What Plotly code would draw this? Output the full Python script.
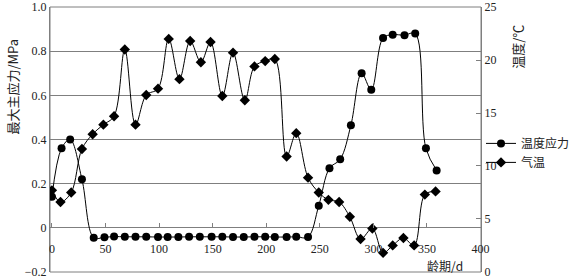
import plotly.graph_objects as go

days_stress = [0, 9, 17, 28, 39, 49, 58, 68, 78, 88, 99, 108, 118, 128, 138, 149, 159, 169, 179, 189,
               199, 208, 219, 228, 239, 249, 259, 269, 279, 289, 298, 309, 318, 329, 339, 349, 359]
stress = [0.14, 0.36, 0.40, 0.22, -0.045, -0.043, -0.040, -0.041, -0.041, -0.041, -0.042, -0.042,
          -0.042, -0.041, -0.041, -0.041, -0.041, -0.042, -0.042, -0.041, -0.041, -0.042, -0.042,
          -0.041, -0.042, 0.10, 0.27, 0.31, 0.465, 0.70, 0.625, 0.86, 0.875, 0.873, 0.88, 0.36, 0.26]

days_air = [0, 8, 18, 28, 38, 48, 58, 68, 78, 88, 99, 109, 119, 129, 139, 148, 159, 169, 180, 189,
            199, 208, 219, 228, 239, 249, 258, 268, 278, 288, 299, 309, 318, 328, 338, 348, 358]
air_temp = [7.7, 6.6, 7.5, 11.6, 13.0, 13.9, 14.7, 21.0, 13.9, 16.7, 17.3, 22.0, 18.2, 21.8, 19.8,
            21.7, 16.6, 20.7, 16.2, 19.4, 19.9, 20.1, 10.9, 13.1, 8.9, 7.5, 6.8, 6.6, 5.2, 3.1, 4.1,
            1.8, 2.5, 3.2, 2.5, 7.3, 7.6]

x_ticks = [0, 50, 100, 150, 200, 250, 300, 350, 400]
y_ticks = [-0.2, 0, 0.2, 0.4, 0.6, 0.8, 1.0]
y_ticktext = ["\u22120.2", "0", "0.2", "0.4", "0.6", "0.8", "1.0"]
y2_ticks = [0, 5, 10, 15, 20, 25]

FONT = "'Liberation Serif', 'Noto Sans CJK SC'"
CJK = "'Noto Sans CJK SC'"
GRID = "#7f7f7f"

fig = go.Figure()
fig.add_trace(go.Scatter(
    x=days_stress, y=stress, name="温度应力", mode="lines+markers",
    line=dict(color="black", width=1, shape="spline", smoothing=1),
    marker=dict(symbol="circle", size=8, color="black"),
))
fig.add_trace(go.Scatter(
    x=days_air, y=air_temp, name="气温", mode="lines+markers", yaxis="y2",
    line=dict(color="black", width=1, shape="spline", smoothing=1),
    marker=dict(symbol="diamond", size=8, color="black"),
))

zero_pos = 0.2 / 1.2

fig.update_layout(
    width=570, height=278,
    margin=dict(l=50, r=89, t=7, b=6, autoexpand=False),
    paper_bgcolor="white", plot_bgcolor="white",
    font=dict(family=FONT, size=12, color="#222"),
    showlegend=True,
    legend=dict(x=1.0, y=0.54, xanchor="left", yanchor="top",
                font=dict(family=CJK, size=12, color="#222"),
                itemwidth=30, tracegroupgap=0, bgcolor="rgba(0,0,0,0)"),
    xaxis=dict(range=[-1.8, 400.4], tickvals=x_ticks, ticks="inside", ticklen=5,
               tickcolor=GRID, showgrid=False, zeroline=False, showline=False,
               anchor="free", position=zero_pos, ticklabelstandoff=12,
               ticklabeloverflow="allow", tickfont=dict(size=12)),
    yaxis=dict(range=[-0.2005, 1.0005], tickvals=y_ticks, ticktext=y_ticktext, showgrid=True,
               gridcolor=GRID, gridwidth=1, zeroline=False, showline=True, linecolor=GRID,
               ticks="", ticklabeloverflow="allow", tickfont=dict(size=12)),
    yaxis2=dict(range=[-0.01, 25.01], tickvals=y2_ticks, overlaying="y", side="right",
                showgrid=False, zeroline=False, showline=True, linecolor=GRID,
                ticks="inside", ticklen=5, tickcolor=GRID, ticklabeloverflow="allow",
                tickfont=dict(size=12)),
    shapes=[dict(type="rect", xref="paper", yref="paper", x0=0, x1=1, y0=0, y1=1,
                 line=dict(color=GRID, width=1), layer="below")],
    annotations=[
        dict(text="最大主应力/MPa", xref="paper", yref="paper", x=-0.088, y=0.70,
             xanchor="center", yanchor="middle",
             textangle=-90, showarrow=False, font=dict(family=CJK, size=13)),
        dict(text="温度/℃", xref="paper", yref="paper", x=1.086, y=0.85,
             xanchor="center", yanchor="middle",
             textangle=-90, showarrow=False, font=dict(family=CJK, size=13)),
        dict(text="龄期/d", xref="paper", yref="paper", x=0.963, y=0.026,
             xanchor="right", yanchor="middle", showarrow=False,
             font=dict(family=CJK, size=12)),
    ],
)

fig.write_html("out.html")
